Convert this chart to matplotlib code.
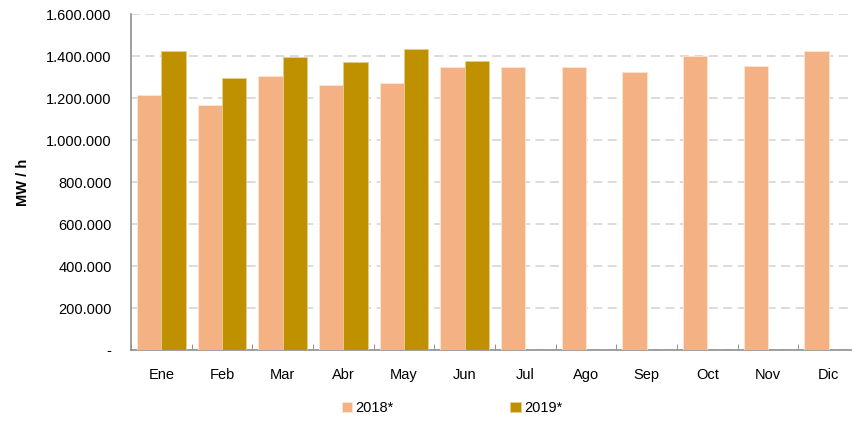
import matplotlib
matplotlib.use('Agg')
import matplotlib.pyplot as plt
import numpy as np
from matplotlib.ticker import FuncFormatter

plt.rcParams['font.family'] = ['Liberation Sans', 'DejaVu Sans']

months = ['Ene', 'Feb', 'Mar', 'Abr', 'May', 'Jun', 'Jul', 'Ago', 'Sep', 'Oct', 'Nov', 'Dic']
vals_2018 = [1214000, 1167000, 1305000, 1263000, 1271000, 1346000,
             1346000, 1346000, 1322000, 1401000, 1352000, 1425000]
vals_2019 = [1425000, 1297000, 1394000, 1370000, 1433000, 1378000]
yticks = [0, 200000, 400000, 600000, 800000, 1000000, 1200000, 1400000, 1600000]

C18 = '#F4B183'
C19 = '#BF9000'


def fmt(v, _):
    if v == 0:
        return '-'
    return f'{int(v):,}'.replace(',', '.')


W, H = 852, 422
fig = plt.figure(figsize=(W / 100, H / 100), dpi=100)
# la parte derecha del eje queda recortada en la imagen original
ax = fig.add_axes([131 / W, 1 - 350 / H, (859 - 131) / W, (350 - 14) / H])

x = np.arange(len(months))
bw = 0.4
ax.bar(x[:len(vals_2018)] - bw / 2, vals_2018, width=bw, color=C18,
       edgecolor='#fde6d2', linewidth=0.6, label='2018*', zorder=3)
ax.bar(x[:len(vals_2019)] + bw / 2, vals_2019, width=bw, color=C19,
       edgecolor='#e6cf8a', linewidth=0.6, label='2019*', zorder=3)

ax.set_xlim(-0.5, len(months) - 0.5)
ax.set_ylim(0, 1600000)
ax.set_yticks(yticks)
ax.yaxis.set_major_formatter(FuncFormatter(fmt))
ax.grid(axis='y', color='#d9d9d9', ls=(0, (5, 3)), lw=1.3, zorder=0)

ax.set_xticks(x)
ax.set_xticklabels(months)
ax.set_xticks(np.arange(len(months) + 1) - 0.5, minor=True)
ax.tick_params(axis='x', which='major', length=0, pad=13, labelsize=10.5)
ax.tick_params(axis='x', which='minor', length=4, direction='in', color='#808080')
ax.tick_params(axis='y', length=0, pad=14, labelsize=10.5)

for s in ['top', 'right']:
    ax.spines[s].set_visible(False)
for s in ['left', 'bottom']:
    ax.spines[s].set_color('#909090')
    ax.spines[s].set_linewidth(1.2)

ax.set_ylabel('MW / h', fontweight='bold', fontsize=10.5)
ax.yaxis.set_label_coords(-101 / (859 - 131), 0.5)

fig.legend(loc='center', bbox_to_anchor=(452 / W, 1 - 408 / H), ncol=2,
           frameon=False, fontsize=10.5, handlelength=0.7, handleheight=0.7,
           handletextpad=0.25, columnspacing=8.0)

fig.savefig('out.png', dpi=100)
